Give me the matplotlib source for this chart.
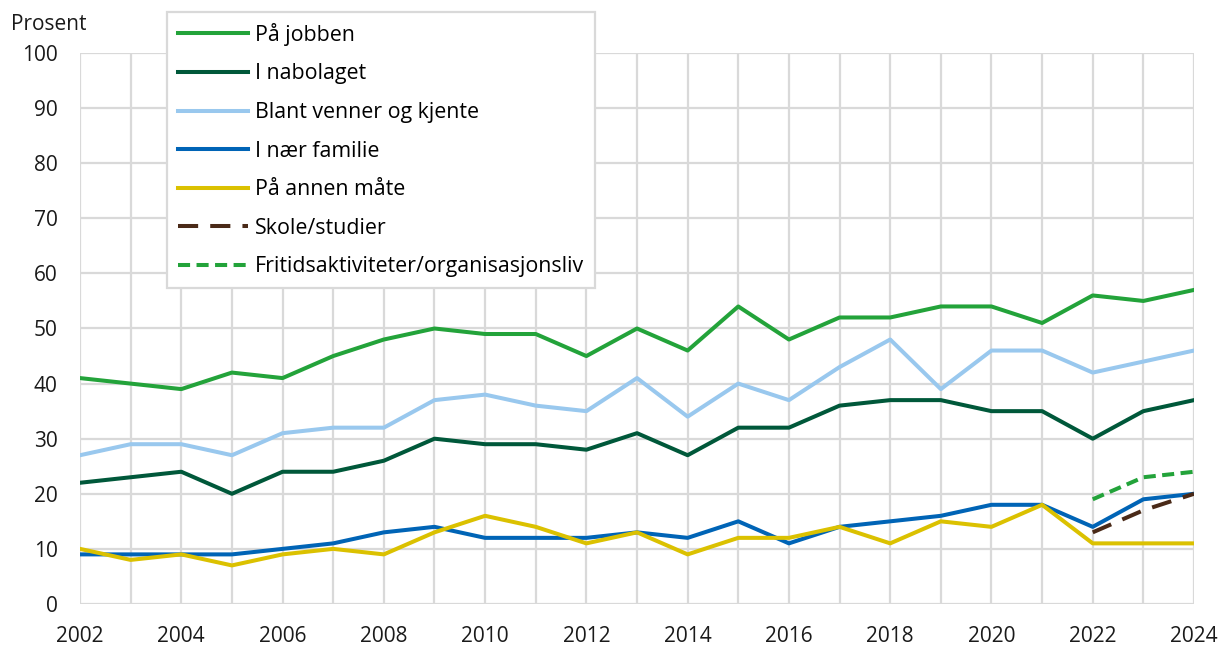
import matplotlib
matplotlib.use("Agg")
import matplotlib.pyplot as plt

plt.rcParams['font.family'] = ['Open Sans', 'DejaVu Sans']

years = list(range(2002, 2025))
jobben = [41, 40, 39, 42, 41, 45, 48, 50, 49, 49, 45, 50, 46, 54, 48, 52, 52, 54, 54, 51, 56, 55, 57]
nabolaget = [22, 23, 24, 20, 24, 24, 26, 30, 29, 29, 28, 31, 27, 32, 32, 36, 37, 37, 35, 35, 30, 35, 37]
venner = [27, 29, 29, 27, 31, 32, 32, 37, 38, 36, 35, 41, 34, 40, 37, 43, 48, 39, 46, 46, 42, 44, 46]
familie = [9, 9, 9, 9, 10, 11, 13, 14, 12, 12, 12, 13, 12, 15, 11, 14, 15, 16, 18, 18, 14, 19, 20]
annen = [10, 8, 9, 7, 9, 10, 9, 13, 16, 14, 11, 13, 9, 12, 12, 14, 11, 15, 14, 18, 11, 11, 11]
years_new = [2022, 2023, 2024]
skole = [13, 17, 20]
fritid = [19, 23, 24]

fig = plt.figure(figsize=(12.18, 6.45), dpi=100)
ax = fig.add_axes([0.0657, 0.0636, 0.9146, 0.8542])

lw = 2.9
fs = 15
ax.plot(years, jobben, color='#23a33a', lw=lw, label='På jobben')
ax.plot(years, nabolaget, color='#00583a', lw=lw, label='I nabolaget')
ax.plot(years, venner, color='#99c8ee', lw=lw, label='Blant venner og kjente')
ax.plot(years, familie, color='#0064b6', lw=lw, label='I nær familie')
ax.plot(years, annen, color='#dbc100', lw=lw, label='På annen måte')
ax.plot(years_new, skole, color='#4a2a18', lw=lw, dashes=(5, 3), label='Skole/studier')
ax.plot(years_new, fritid, color='#23a33a', lw=lw, dashes=(3, 1.6), label='Fritidsaktiviteter/organisasjonsliv')

ax.set_xlim(2002, 2024)
ax.set_ylim(0, 100)
ax.set_xticks(range(2002, 2025, 2))
ax.set_xticks(years, minor=True)
ax.set_yticks(range(0, 101, 10))
ax.grid(which='both', color='#d9d9d9', lw=1.6)
ax.set_axisbelow(True)
for s in ax.spines.values():
    s.set_visible(False)
ax.tick_params(which='both', length=0, labelsize=fs, colors='#1a1a1a')
ax.tick_params(axis='y', pad=16)
ax.tick_params(axis='x', pad=16)

fig.text(0.009, 0.962, 'Prosent', fontsize=fs, color='#1a1a1a', va='center')

leg = ax.legend(loc='upper left', bbox_to_anchor=(0.137, 0.981), bbox_transform=fig.transFigure,
                fontsize=15.4, handlelength=3.3, handletextpad=0.33, labelspacing=0.82,
                fancybox=False, framealpha=1, edgecolor='#d9d9d9', borderpad=0.5,
                borderaxespad=0)
leg.get_frame().set_linewidth(1.6)

fig.savefig('out.png', dpi=100)
